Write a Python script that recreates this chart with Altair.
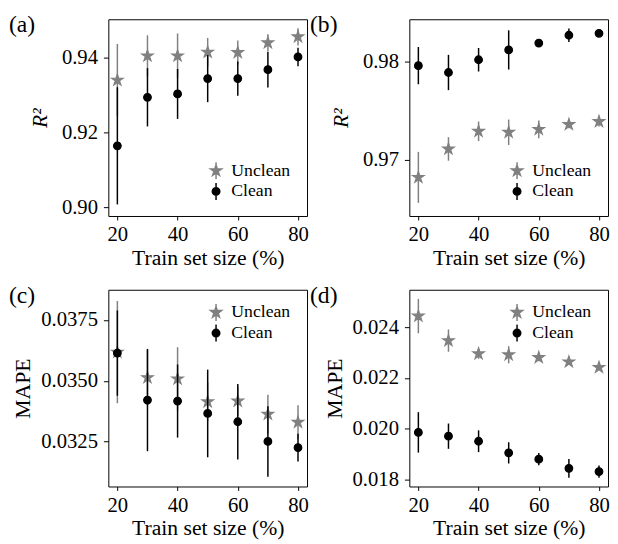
import math
import altair as alt
import pandas as pd

FONT = "Liberation Serif"
GREY = "#808080"
BLACK = "#000000"

sizes = [20, 30, 40, 50, 60, 70, 80]
series_names = ["Unclean", "Clean"]
panel_labels = ["(a)", "(b)", "(c)", "(d)"]

a_unclean = [0.9341, 0.9406, 0.9406, 0.9416, 0.9415, 0.9441, 0.9457]
a_unclean_err = [0.0097, 0.0055, 0.0060, 0.0038, 0.0032, 0.0023, 0.0023]
a_clean = [0.9165, 0.9295, 0.9304, 0.9345, 0.9345, 0.9369, 0.9403]
a_clean_err = [0.0157, 0.0078, 0.0067, 0.0063, 0.0046, 0.0048, 0.0025]

b_unclean = [0.9682, 0.9711, 0.9729, 0.9728, 0.9731, 0.9736, 0.9739]
b_unclean_err = [0.0026, 0.0012, 0.0010, 0.0013, 0.0009, 0.0004, 0.0005]
b_clean = [0.9796, 0.9789, 0.9802, 0.9812, 0.9819, 0.9827, 0.9829]
b_clean_err = [0.0019, 0.0018, 0.0012, 0.0020, 0.0004, 0.0007, 0.0003]

c_unclean = [0.03618, 0.03513, 0.03508, 0.03414, 0.03417, 0.03363, 0.03330]
c_unclean_err = [0.0021, 0.00115, 0.0013, 0.0008, 0.0006, 0.0008, 0.0007]
c_clean = [0.03614, 0.03421, 0.03417, 0.03366, 0.03332, 0.03251, 0.03226]
c_clean_err = [0.00175, 0.0021, 0.0015, 0.0018, 0.00155, 0.00145, 0.00057]

d_unclean = [0.02445, 0.02348, 0.02296, 0.02292, 0.02281, 0.02264, 0.02242]
d_unclean_err = [0.00068, 0.00044, 0.0002, 0.00034, 0.00015, 0.0001, 0.0001]
d_clean = [0.01985, 0.01970, 0.01950, 0.01904, 0.01879, 0.01843, 0.01830]
d_clean_err = [0.0008, 0.0005, 0.00043, 0.00042, 0.00024, 0.00037, 0.00024]

x_ticks = [20, 40, 60, 80]


def star_path(R, ratio=0.381966, extra=""):
    pts = []
    for k in range(10):
        ang = math.radians(-90 + 36 * k)
        rr = R if k % 2 == 0 else R * ratio
        pts.append((rr * math.cos(ang), rr * math.sin(ang)))
    d = "M" + " L".join(f"{x:.4f},{y:.4f}" for x, y in pts) + " Z"
    return d + extra


LINE = " M0,-1 L0,1"
STAR = star_path(1.0)
STAR_LEG = star_path(0.68, extra=LINE)
CIRC_LEG = "M0.44,0 A0.44,0.44 0 1,1 -0.44,0 A0.44,0.44 0 1,1 0.44,0 Z" + LINE


def panel(label, unclean, uerr, clean, cerr, ydom, yticks, yfmt, ytitle,
          italic, legend_y, title_pad):
    rows = []
    for name, vals, errs in [("Unclean", unclean, uerr), ("Clean", clean, cerr)]:
        for s, v, e in zip(sizes, vals, errs):
            rows.append({"series": name, "size": s, "mean": v,
                         "lo": v - e, "hi": v + e})
    df = pd.DataFrame(rows)

    xenc = alt.X("size:Q", title="Train set size (%)",
                 scale=alt.Scale(domain=[17, 83], nice=False, zero=False),
                 axis=alt.Axis(values=x_ticks, format="d"))
    yaxis = alt.Axis(values=yticks, format=yfmt,
                     titleFontStyle="italic" if italic else "normal",
                     titlePadding=title_pad)
    yscale = alt.Scale(domain=ydom, nice=False, zero=False)

    def ymean():
        return alt.Y("mean:Q", title=ytitle, scale=yscale, axis=yaxis)

    base = alt.Chart(df)
    layers = []
    for name, col, shp, sz in [("Unclean", GREY, STAR, 150),
                               ("Clean", BLACK, "circle", 60)]:
        sub = base.transform_filter(alt.datum.series == name)
        layers.append(sub.mark_rule(color=col, strokeWidth=1.5).encode(
            x=xenc,
            y=alt.Y("lo:Q", title=ytitle, scale=yscale, axis=yaxis),
            y2="hi:Q"))
        layers.append(sub.mark_point(shape=shp, filled=True, size=sz,
                                     fill=col, stroke=col, strokeWidth=1.2,
                                     opacity=1).encode(
            x=xenc, y=ymean()))

    leg = alt.Legend(orient="none", legendX=100, legendY=legend_y,
                     title=None, labelFont=FONT, labelFontSize=18,
                     labelColor="black", symbolStrokeWidth=1.5,
                     symbolSize=300, clipHeight=18, rowPadding=3,
                     labelOffset=6, padding=0)
    dom = series_names
    legend_layer = base.transform_filter("false").mark_point(
        filled=True, size=300, opacity=1, strokeWidth=1.5).encode(
        x=xenc, y=ymean(),
        shape=alt.Shape("series:N", scale=alt.Scale(domain=dom, range=[STAR_LEG, CIRC_LEG]), legend=leg),
        color=alt.Color("series:N", scale=alt.Scale(domain=dom, range=[GREY, BLACK]), legend=leg),
        stroke=alt.Stroke("series:N", scale=alt.Scale(domain=dom, range=[GREY, BLACK]), legend=leg),
    )
    layers.append(legend_layer)

    text = alt.Chart(pd.DataFrame({"label": [label]})).mark_text(
        align="left", baseline="alphabetic", fontSize=24, font=FONT,
        color="black").encode(x=alt.value(-101), y=alt.value(13), text="label:N")
    layers.append(text)

    return alt.layer(*layers).properties(width=202, height=200)


pa = panel(panel_labels[0], a_unclean, a_unclean_err, a_clean, a_clean_err,
           [0.8977, 0.9504], [0.90, 0.92, 0.94], ".2f", "R²", True, 145, 10)
pb = panel(panel_labels[1], b_unclean, b_unclean_err, b_clean, b_clean_err,
           [0.96426, 0.98433], [0.97, 0.98], ".2f", "R²", True, 145, 10)
pc = panel(panel_labels[2], c_unclean, c_unclean_err, c_clean, c_clean_err,
           [0.03066, 0.03874], [0.0325, 0.0350, 0.0375], ".4f", "MAPE", False, 14, 6)
pd_ = panel(panel_labels[3], d_unclean, d_unclean_err, d_clean, d_clean_err,
            [0.01771, 0.02549], [0.018, 0.020, 0.022, 0.024], ".3f", "MAPE", False, 14, 6)

indep = dict(shape="independent", color="independent", stroke="independent")

row1 = alt.hconcat(pa, pb, spacing=0).resolve_scale(**indep).resolve_legend(**indep)
row2 = alt.hconcat(pc, pd_, spacing=0).resolve_scale(**indep).resolve_legend(**indep)

chart = alt.vconcat(row1, row2, spacing=14).resolve_scale(**indep).resolve_legend(**indep).properties(
    padding={"left": 0, "top": 0, "right": 0, "bottom": 0}
).configure_view(
    stroke="black", strokeWidth=1
).configure_axis(
    domain=False, grid=False, tickColor="black", tickWidth=1,
    labelFont=FONT, labelFontSize=21, labelColor="black",
    titleFont=FONT, titleFontSize=22, titleColor="black", titleFontWeight="normal"
).configure_axisX(
    tickSize=4, labelPadding=4, titlePadding=3
).configure_axisY(
    tickSize=5, labelPadding=6
)

chart.save("out.html", embed_options={"renderer": "svg", "actions": False})
